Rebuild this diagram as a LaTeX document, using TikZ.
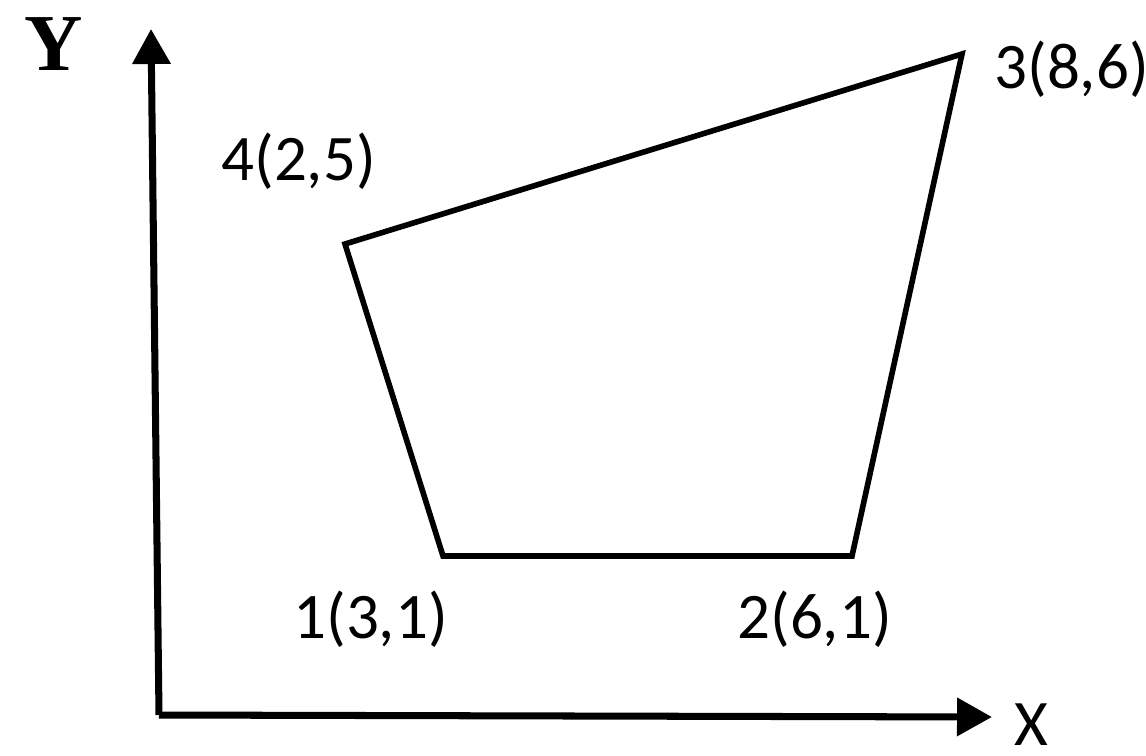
\documentclass[tikz,border=0pt]{standalone}
\usepackage{fontspec}
\usepackage{tikz}
\usetikzlibrary{arrows.meta,positioning}
\newfontfamily\lblfont{Carlito}
\newfontfamily\axfont{Liberation Serif}

\begin{document}
\begin{tikzpicture}[
  x=0.02cm, y=-0.02cm,
  axis/.style={draw, line width=4pt, -{Triangle[length=7mm, width=7.4mm]}},
  edge/.style={draw, line width=3.2pt, line join=miter},
  lbl/.style={inner sep=0pt, anchor=base west, font=\lblfont\fontsize{37}{40}\selectfont}
]
\useasboundingbox (0,0) rectangle (1146,755);
% axes
\coordinate (o) at (159,715);
\coordinate (xend) at (992,717);
\coordinate (yend) at (151,29);
\draw[axis] (o) -- (xend);
\draw[axis] (o) -- (yend);
\node[inner sep=0pt, anchor=base west, font=\axfont\bfseries\fontsize{46}{48}\selectfont] (ylbl) at (24,70) {Y};
\node[lbl] (xlbl) at (1014,745) {X};
% quadrilateral
\coordinate (p1) at (443,556);
\coordinate (p2) at (852,556);
\coordinate (p3) at (962,54);
\coordinate (p4) at (345,244);
\draw[edge] (p1) -- (p2) -- (p3) -- (p4) -- cycle;
\node[lbl] (l1) at (293,638) {1(3,1)};
\node[lbl] (l2) at (737,638) {2(6,1)};
\node[lbl] (l3) at (994,88) {3(8,6)};
\node[lbl] (l4) at (221,180) {4(2,5)};
\end{tikzpicture}
\end{document}
